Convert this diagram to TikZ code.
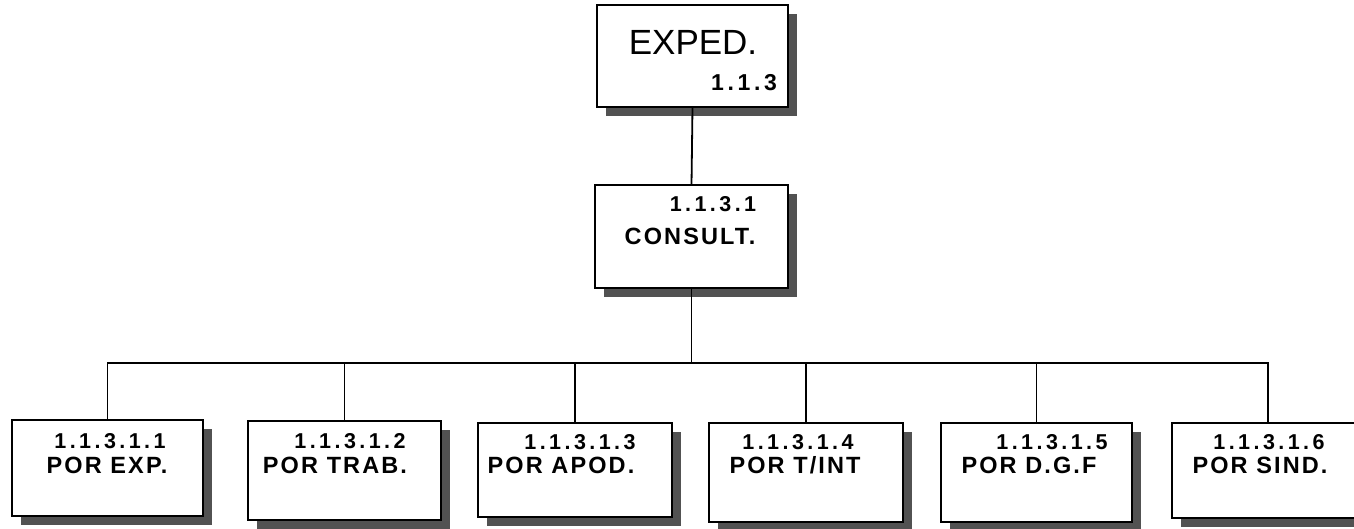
\documentclass[tikz,border=0pt]{standalone}
\usepackage{fontspec}
\setmainfont{Liberation Sans}
\newfontfamily\numfont[LetterSpace=16]{Liberation Sans}
\newfontfamily\lblfont[LetterSpace=9]{Liberation Sans}
\usetikzlibrary{shadows}
\begin{document}
\begin{tikzpicture}[x=1pt,y=-1pt,
  box/.style={draw=black, line width=1.8pt, fill=white, inner sep=0pt, outer sep=0pt,
    anchor=north west,
    general shadow={fill=black!68, shadow xshift=9pt, shadow yshift=-9pt}},
  num/.style={font=\numfont\bfseries\fontsize{21.5}{25}\selectfont, inner sep=0pt},
  lbl/.style={font=\lblfont\bfseries\fontsize{23.5}{27}\selectfont, inner sep=0pt},
  conn/.style={draw=black, line width=1.8pt}]
\useasboundingbox (0,0) rectangle (1354,528);
\fill[white] (0,0) rectangle (1354,528);
\clip (0,0) rectangle (1354,528);
% top
\node[box, minimum width=191pt, minimum height=102pt] (exped) at (597,5) {};
\node[inner sep=0pt, font=\fontsize{35}{38}\selectfont] (expedt) at (693,42) {EXPED.};
\node[num, font=\numfont\bfseries\fontsize{23}{26}\selectfont] (expedn) at (744,83) {1.1.3};
% consult
\node[box, minimum width=193pt, minimum height=103pt] (cons) at (595,185) {};
\node[num] (consn) at (713,204) {1.1.3.1};
\node[lbl] (const) at (690,236) {CONSULT.};
% children
\node[box, minimum width=191pt, minimum height=96pt] (c1) at (12,420) {};
\node[box, minimum width=193pt, minimum height=99pt] (c2) at (248,421) {};
\node[box, minimum width=194pt, minimum height=94pt] (c3) at (478,423) {};
\node[box, minimum width=194pt, minimum height=99pt] (c4) at (709,423) {};
\node[box, minimum width=191pt, minimum height=99pt] (c5) at (941,423) {};
\node[box, minimum width=192pt, minimum height=95pt] (c6) at (1172,423) {};
\node[num] (n1) at (110,441) {1.1.3.1.1};
\node[lbl] (l1) at (107,465) {POR EXP.};
\node[num] (n2) at (350,441) {1.1.3.1.2};
\node[lbl] (l2) at (335,465) {POR TRAB.};
\node[num] (n3) at (580,442) {1.1.3.1.3};
\node[lbl] (l3) at (561,465) {POR APOD.};
\node[num] (n4) at (798,442) {1.1.3.1.4};
\node[lbl] (l4) at (795,465) {POR T/INT};
\node[num] (n5) at (1052,442) {1.1.3.1.5};
\node[lbl] (l5) at (1029,465) {POR D.G.F};
\node[num] (n6) at (1269,442) {1.1.3.1.6};
\node[lbl] (l6) at (1260,465) {POR SIND.};
% connectors
\coordinate (bus) at (688,363);
\draw[conn] (exped.south) -- (cons.north);
\draw[conn] (cons.south) -- (cons.south |- bus);
\draw[conn] (c1.north) |- (c6.north |- bus) -- (c6.north);
\draw[conn] (c2.north) -- (c2.north |- bus);
\draw[conn] (c3.north) -- (c3.north |- bus);
\draw[conn] (c4.north) -- (c4.north |- bus);
\draw[conn] (c5.north) -- (c5.north |- bus);
\end{tikzpicture}
\end{document}
